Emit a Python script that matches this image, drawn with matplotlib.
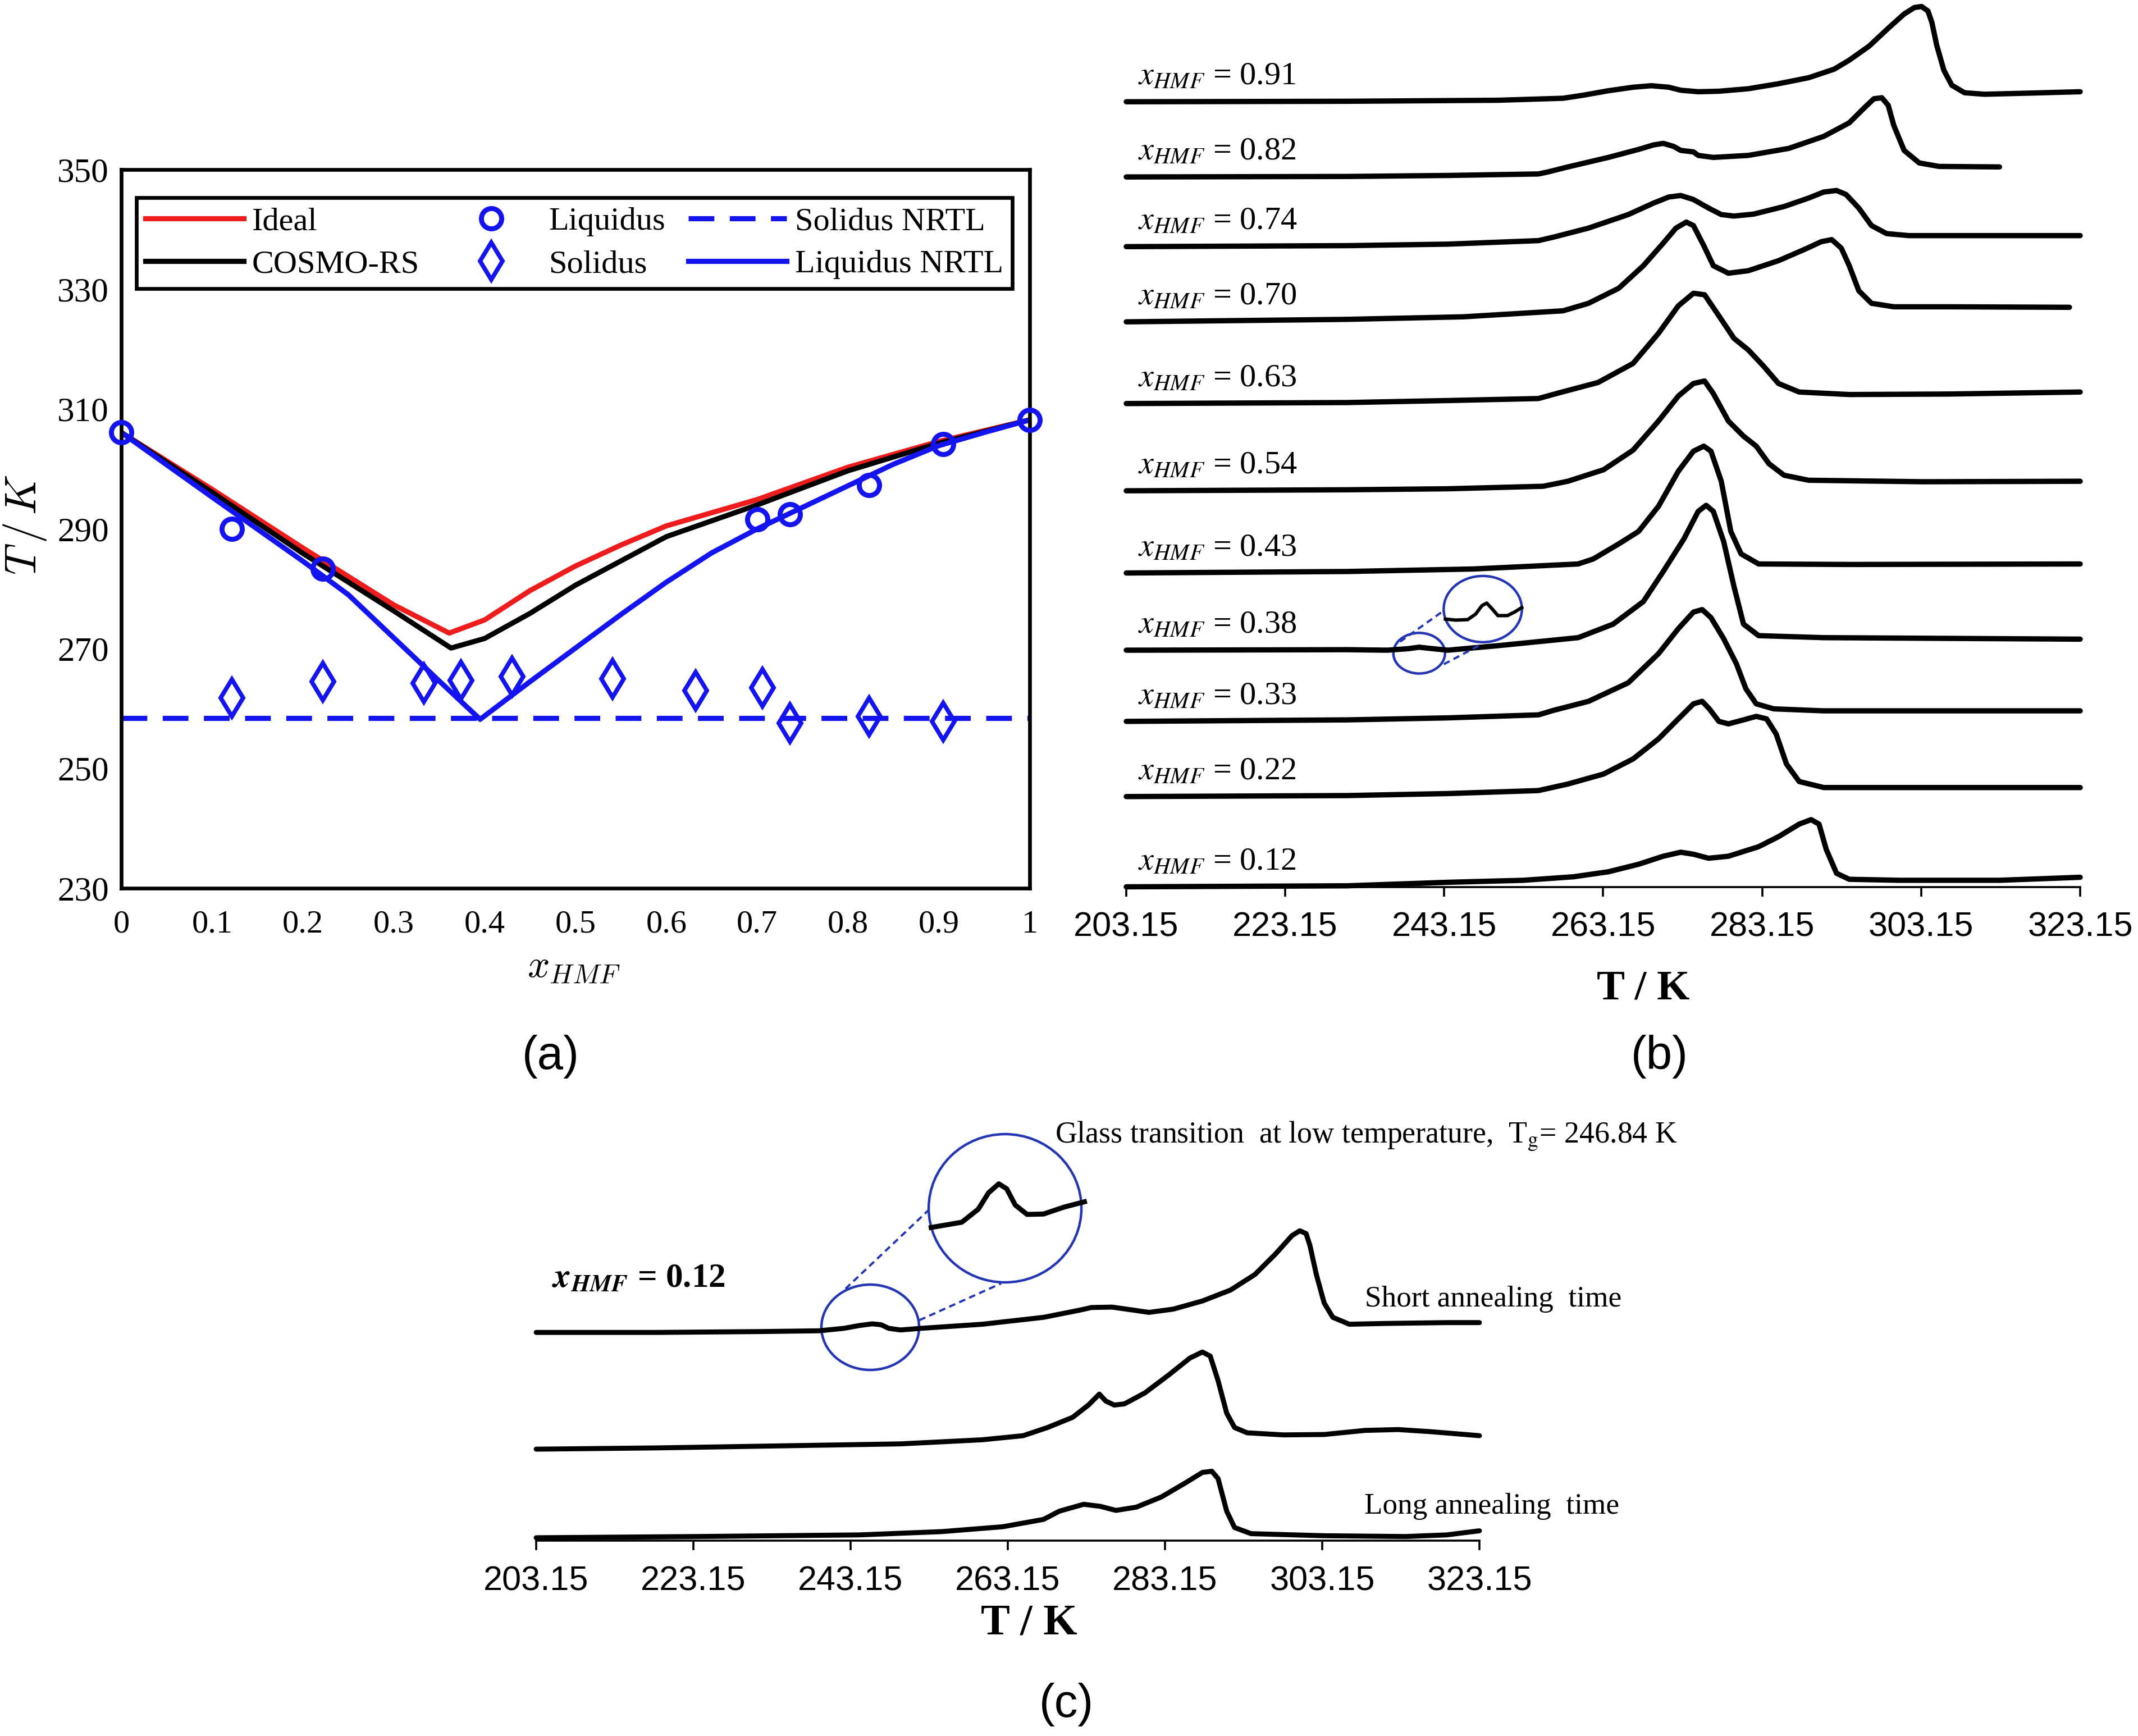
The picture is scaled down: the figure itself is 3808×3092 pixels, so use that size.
import matplotlib.pyplot as plt
from matplotlib.patches import Ellipse

plt.rcParams['font.family'] = ['Liberation Serif', 'DejaVu Serif']

# ---------------- (a) solid-liquid equilibrium ----------------
x_ideal = [0.0, 0.1, 0.2, 0.3, 0.361, 0.4, 0.45, 0.5, 0.55, 0.6, 0.7, 0.8, 0.9, 1.0]
T_ideal = [306.1, 296.6, 286.8, 277.3, 272.6, 274.8, 279.7, 283.8, 287.3, 290.5, 294.9, 300.3, 304.6, 308.2]

x_cosmo = [0.0, 0.1, 0.2, 0.3, 0.363, 0.4, 0.45, 0.5, 0.6, 0.7, 0.8, 0.9, 1.0]
T_cosmo = [306.1, 296.1, 285.9, 276.3, 270.1, 271.7, 275.9, 280.6, 288.7, 294.0, 299.7, 304.3, 308.2]

x_nrtl = [0.0, 0.1, 0.2, 0.25, 0.3, 0.35, 0.395, 0.45, 0.5, 0.55, 0.6, 0.65, 0.7, 0.75, 0.8, 0.85, 0.9, 0.95, 1.0]
T_nrtl = [306.1, 295.3, 284.6, 279.0, 271.8, 264.6, 258.2, 264.5, 270.1, 275.7, 281.1, 286.0, 290.0, 293.6, 297.2, 300.8, 303.9, 306.1, 308.2]

x_liq = [0.0, 0.122, 0.222, 0.700, 0.736, 0.823, 0.905, 1.0]
T_liq = [306.1, 290.0, 283.3, 291.6, 292.4, 297.3, 304.2, 308.2]

x_sol = [0.122, 0.222, 0.333, 0.374, 0.430, 0.541, 0.632, 0.706, 0.736, 0.823, 0.905]
T_sol = [261.8, 264.5, 264.2, 264.7, 265.3, 265.0, 263.0, 263.5, 257.6, 258.7, 257.8]

T_sol_nrtl = 258.4

# ---------------- (b) DSC thermograms (stacked heat flow, a.u.) ----------------
T_091 = [203.15, 231.0, 240.5, 249.9, 258.1, 260.6, 263.8, 266.9, 269.2, 271.4, 272.9, 275.1, 277.7, 281.4, 285.2, 289.0,
         292.2, 294.1, 296.6, 299.1, 301.0, 302.3, 303.2, 304.0, 304.5, 305.1, 306.0, 307.0, 308.6, 311.1, 316.1, 323.15]
q_091 = [1566, 1567, 1568, 1569, 1573, 1579, 1588, 1595, 1598, 1595, 1589, 1586, 1587, 1592, 1602, 1614,
         1631, 1649, 1677, 1714, 1741, 1754, 1756, 1747, 1724, 1679, 1629, 1599, 1584, 1581, 1583, 1586]

T_082 = [203.15, 231.0, 243.6, 255.0, 256.2, 258.7, 263.8, 267.6, 269.5, 270.7, 272.0, 272.9, 274.5, 275.1,
         277.0, 281.4, 286.5, 290.9, 294.1, 296.0, 297.2, 298.2, 299.0, 299.7, 301.0, 302.9, 305.4, 313.0]
q_082 = [1416, 1417, 1419, 1422, 1426, 1436, 1455, 1471, 1480, 1483, 1477, 1469, 1466, 1459,
         1455, 1459, 1473, 1497, 1524, 1554, 1572, 1574, 1559, 1519, 1469, 1444, 1437, 1436]

T_074 = [203.15, 231.0, 243.6, 255.0, 256.9, 261.3, 266.3, 269.5, 271.4, 272.9, 274.5, 276.4, 278.0,
         279.6, 282.1, 285.9, 289.0, 290.9, 292.5, 293.7, 295.3, 296.9, 298.8, 301.6, 313.0, 323.15]
q_074 = [1277, 1279, 1282, 1289, 1296, 1314, 1341, 1364, 1376, 1379, 1371, 1354, 1341,
         1338, 1342, 1357, 1374, 1386, 1389, 1381, 1354, 1319, 1303, 1299, 1299, 1299]

T_070 = [203.15, 231.0, 245.5, 258.1, 261.3, 265.1, 268.2, 270.7, 272.3, 273.6, 274.5, 275.8, 277.0,
         278.9, 281.4, 285.2, 288.4, 290.6, 291.9, 293.1, 294.1, 295.3, 296.9, 299.7, 306.7, 321.8]
q_070 = [1127, 1132, 1137, 1149, 1164, 1194, 1239, 1284, 1314, 1326, 1319, 1279, 1239,
         1224, 1229, 1249, 1271, 1287, 1291, 1274, 1239, 1189, 1164, 1157, 1157, 1156]

T_063 = [203.15, 231.0, 243.6, 255.0, 257.5, 262.5, 266.9, 270.1, 272.6, 274.5, 275.9, 277.7, 279.6,
         281.4, 283.3, 285.2, 287.8, 294.1, 306.7, 323.15]
q_063 = [964, 966, 970, 974, 985, 1006, 1044, 1104, 1159, 1184, 1181, 1139, 1094,
         1071, 1039, 1004, 987, 982, 983, 987]

T_054 = [203.15, 231.0, 243.6, 255.6, 258.7, 263.2, 266.9, 270.1, 272.6, 274.5, 275.9, 277.0, 278.9,
         280.8, 282.4, 284.0, 285.9, 289.0, 303.5, 323.15]
q_054 = [790, 792, 794, 799, 809, 832, 871, 929, 979, 1004, 1009, 984, 929,
         899, 879, 844, 821, 811, 808, 809]

T_043 = [203.15, 231.0, 246.8, 260.0, 261.9, 265.1, 267.6, 270.1, 272.6, 274.5, 275.8, 276.7, 278.0,
         279.2, 280.5, 282.7, 294.1, 323.15]
q_043 = [626, 629, 634, 644, 654, 684, 709, 759, 829, 869, 879, 869, 809,
         709, 664, 644, 643, 644]

T_038 = [203.15, 231.0, 236.0, 238.6, 240.0, 241.1, 243.6, 249.9, 260.0, 264.4, 268.2, 270.7, 273.3,
         275.1, 276.1, 277.0, 278.3, 279.6, 280.8, 282.7, 290.9, 323.15]
q_038 = [472, 473, 472, 475, 478, 476, 472, 481, 497, 524, 569, 629, 694,
         749, 761, 749, 689, 599, 524, 501, 497, 494]

T_033 = [203.15, 231.0, 243.6, 255.0, 256.9, 261.3, 266.3, 270.1, 272.6, 274.5, 275.6, 276.7, 278.3,
         279.9, 281.1, 282.4, 284.6, 290.9, 323.15]
q_033 = [330, 333, 337, 343, 352, 370, 407, 465, 515, 548, 553, 537, 495,
         445, 395, 365, 355, 351, 351]

T_022 = [203.15, 231.0, 243.6, 255.0, 258.7, 263.2, 266.9, 270.1, 272.6, 274.5, 275.6, 276.5, 277.7,
         278.9, 280.8, 282.4, 283.7, 284.9, 286.2, 287.8, 290.9, 323.15]
q_022 = [180, 182, 186, 192, 205, 225, 255, 295, 335, 365, 370, 355, 330,
         325, 333, 340, 335, 305, 245, 210, 198, 198]

T_012 = [203.15, 231.0, 243.6, 253.1, 259.4, 263.8, 267.6, 270.7, 272.9, 274.5, 276.4, 278.9, 282.7,
         285.2, 287.8, 289.3, 290.3, 291.2, 292.5, 294.1, 300.4, 313.0, 323.15]
q_012 = [0, 2, 9, 13, 20, 30, 45, 61, 69, 65, 57, 61, 80,
         100, 125, 134, 125, 75, 27, 15, 13, 13, 19]

compositions = ['0.91', '0.82', '0.74', '0.70', '0.63', '0.54', '0.43', '0.38', '0.33', '0.22', '0.12']

# magnified glass transition of x = 0.38
T_038_zoom = [243.3, 244.6, 246.1, 247.1, 247.9, 248.5, 249.2, 249.9, 251.1, 252.1, 252.9]
q_038_zoom = [534, 532, 533, 544, 561, 566, 554, 541, 541, 549, 557]

# ---------------- (c) x = 0.12, annealing time ----------------
T_short = [203.15, 218.4, 231.4, 239.1, 242.3, 244.3, 245.9, 247.0, 248.0, 249.5, 252.1, 259.9, 267.7, 272.4,
           273.8, 276.4, 279.0, 281.1, 284.2, 287.9, 291.5, 294.6, 297.2, 299.3, 300.3, 301.1, 301.6, 302.4,
           303.4, 304.5, 306.6, 311.2, 319.0, 323.15]
q_short = [370.8, 370.8, 372.3, 373.7, 378.1, 383.2, 386.1, 384.6, 378.1, 375.2, 378.1, 385.4, 397.7, 410.8,
           415.2, 415.9, 410.8, 406.5, 412.3, 426.8, 446.4, 474.1, 510.4, 543.2, 551.9, 546.8, 525.0, 474.1,
           423.2, 397.7, 385.4, 386.8, 388.3, 388.3]

T_mid = [203.15, 218.4, 234.0, 249.5, 259.9, 265.1, 268.2, 271.4, 273.4, 274.8, 275.6, 276.7, 278.0, 280.6,
         283.7, 286.3, 287.9, 288.9, 289.9, 291.0, 292.0, 293.6, 298.2, 303.4, 308.6, 312.8, 316.9, 323.15]
q_mid = [162.9, 165.1, 168.7, 172.3, 179.6, 186.9, 201.4, 219.6, 241.4, 261.0, 248.7, 241.4, 243.6, 263.2,
         295.9, 325.0, 335.9, 328.7, 285.0, 226.9, 201.4, 192.0, 188.3, 189.0, 196.3, 197.8, 194.1, 186.9]

T_long = [203.15, 223.6, 244.3, 254.7, 262.5, 267.7, 269.7, 272.8, 274.9, 276.9, 279.5, 282.7, 285.8, 287.9,
          289.1, 289.9, 291.0, 292.0, 294.1, 303.4, 313.8, 319.0, 323.15]
q_long = [5.1, 7.3, 10.2, 16.0, 24.7, 37.8, 52.4, 64.7, 61.1, 53.8, 59.6, 77.8, 103.3, 121.4,
          123.6, 110.5, 52.4, 23.3, 12.4, 8.7, 7.3, 10.2, 17.5]

# magnified glass transition (Tg = 246.84 K)
T_gt_zoom = [253.4, 257.3, 259.4, 260.7, 262.0, 263.0, 264.1, 265.6, 267.7, 270.3, 272.9]
q_gt_zoom = [557.7, 567.1, 590.4, 619.5, 635.5, 626.8, 597.7, 581.0, 581.7, 594.0, 603.5]

T_ticks = [203.15, 223.15, 243.15, 263.15, 283.15, 303.15, 323.15]

red = '#ee1c1c'
blue = '#1414f0'
circ_blue = '#2436b4'

W, H = 3808, 3092
fig = plt.figure(figsize=(W / 200, H / 200), dpi=200)

# ---------------- panel (a) ----------------
ax_a = fig.add_axes([216 / W, 1 - 1582 / H, 1618 / W, 1280 / H])
ax_a.plot(x_ideal, T_ideal, color=red, lw=3.3, label='Ideal')
ax_a.plot(x_cosmo, T_cosmo, color='black', lw=3.3, label='COSMO-RS')
ax_a.plot(x_liq, T_liq, ls='none', marker='o', ms=13, mfc='none', mec=blue, mew=3.2,
          label='Liquidus', clip_on=False, zorder=4)
ax_a.plot(x_sol, T_sol, ls='none', marker='d', ms=17, mfc='none', mec=blue, mew=2.8,
          label='Solidus', zorder=4)
ax_a.plot([0, 1], [T_sol_nrtl, T_sol_nrtl], color=blue, lw=3.3, dashes=(5, 3), label='Solidus NRTL')
ax_a.plot(x_nrtl, T_nrtl, color=blue, lw=3.3, label='Liquidus NRTL')

ax_a.set_xlim(0, 1)
ax_a.set_ylim(230, 350)
ax_a.set_xticks([0, 0.1, 0.2, 0.3, 0.4, 0.5, 0.6, 0.7, 0.8, 0.9, 1])
ax_a.set_xticklabels(['0', '0.1', '0.2', '0.3', '0.4', '0.5', '0.6', '0.7', '0.8', '0.9', '1'])
ax_a.set_yticks([230, 250, 270, 290, 310, 330, 350])
ax_a.tick_params(axis='both', length=0, labelsize=21)
ax_a.tick_params(axis='y', labelsize=22, pad=8)
ax_a.tick_params(axis='x', pad=14)
for sp in ax_a.spines.values():
    sp.set_linewidth(2.4)

leg = ax_a.legend(ncol=3, loc='upper left', bbox_to_anchor=(0.0166, 0.961), borderaxespad=0,
                  fancybox=False, edgecolor='black', framealpha=1, fontsize=21,
                  handlelength=3.0, handletextpad=0.25, columnspacing=0.7,
                  labelspacing=0.4, borderpad=0.28)
leg.get_frame().set_linewidth(2.4)

fig.text(44 / W, 1 - 935 / H, r'$T\,/\,K$', rotation=90, ha='center', va='center',
         fontsize=28, math_fontfamily='cm')
fig.text(1022 / W, 1 - 1724 / H, r'$x_{HMF}$', ha='center', va='center',
         fontsize=25, math_fontfamily='cm')
fig.text(981 / W, 1 - 1882 / H, '(a)', ha='center', va='center', fontsize=30, family='Liberation Sans')

# ---------------- panel (b) ----------------
ax_b = fig.add_axes([2006 / W, 1 - 1579.5 / H, 1699 / W, 1579.5 / H])
ax_b.patch.set_visible(False)
curves_b = [(T_091, q_091), (T_082, q_082), (T_074, q_074), (T_070, q_070), (T_063, q_063),
            (T_054, q_054), (T_043, q_043), (T_038, q_038), (T_033, q_033), (T_022, q_022),
            (T_012, q_012)]
for (T, q), comp in zip(curves_b, compositions):
    ax_b.plot(T, q, color='black', lw=3.4, solid_capstyle='round', solid_joinstyle='round', clip_on=False)
    ax_b.text(204.6, q[0] + 50, r'$x_{HMF}$ = ' + comp, ha='left', va='center',
              fontsize=21, math_fontfamily='stix')

ax_b.add_patch(Ellipse((248.0, 554), 9.84, 132, fill=False, ec=circ_blue, lw=1.6, clip_on=False))
ax_b.add_patch(Ellipse((240.0, 466), 6.5, 81, fill=False, ec=circ_blue, lw=1.6, clip_on=False))
ax_b.plot(T_038_zoom, q_038_zoom, color='black', lw=2.2, solid_joinstyle='round')
ax_b.plot([237.6, 243.1], [489, 551], color=circ_blue, lw=1.4, dashes=(3, 2))
ax_b.plot([243.1, 247.5], [444, 481], color=circ_blue, lw=1.4, dashes=(3, 2))

ax_b.set_xlim(203.15, 323.15)
ax_b.set_ylim(0, 1769)
for sp in ['left', 'right', 'top']:
    ax_b.spines[sp].set_visible(False)
ax_b.spines['bottom'].set_linewidth(1.3)
ax_b.set_yticks([])
ax_b.set_xticks(T_ticks)
ax_b.set_xticklabels([f'{t:.2f}' for t in T_ticks], family='Liberation Sans', fontsize=22)
ax_b.tick_params(axis='x', length=6, width=1.3, pad=10)

fig.text(2927 / W, 1 - 1761 / H, 'T / K', ha='center', va='center', fontsize=27, fontweight='bold')
fig.text(2956 / W, 1 - 1882 / H, '(b)', ha='center', va='center', fontsize=30, family='Liberation Sans')

# ---------------- panel (c) ----------------
ax_c = fig.add_axes([955 / W, 1 - 2744 / H, 1680 / W, 794 / H])
ax_c.patch.set_visible(False)
for T, q in [(T_short, q_short), (T_mid, q_mid), (T_long, q_long)]:
    ax_c.plot(T, q, color='black', lw=3.2, solid_capstyle='round', solid_joinstyle='round', clip_on=False)

ax_c.add_patch(Ellipse((262.8, 592), 19.43, 264, fill=False, ec=circ_blue, lw=1.6, clip_on=False))
ax_c.add_patch(Ellipse((245.65, 380), 12.43, 152, fill=False, ec=circ_blue, lw=1.6, clip_on=False))
ax_c.plot(T_gt_zoom, q_gt_zoom, color='black', lw=3.2, solid_joinstyle='round')
ax_c.plot([242.5, 253.1], [448.6, 589.0], color=circ_blue, lw=1.4, dashes=(3, 2))
ax_c.plot([251.9, 262.3], [392.6, 458.1], color=circ_blue, lw=1.4, dashes=(3, 2))

ax_c.text(205.15, 467, r'$\mathbfit{x}_{\mathbfit{HMF}}$ = 0.12', ha='left', va='center',
          fontsize=22, fontweight='bold', math_fontfamily='stix')
ax_c.text(269.15, 721, r'Glass transition  at low temperature,  T$_{\rm g}$= 246.84 K',
          ha='left', va='center', fontsize=19.4, math_fontfamily='stix')
ax_c.text(308.6, 430, 'Short annealing  time', ha='left', va='center', fontsize=19.2)
ax_c.text(308.5, 61, 'Long annealing  time', ha='left', va='center', fontsize=19.2)

ax_c.set_xlim(203.15, 323.15)
ax_c.set_ylim(0, 794)
for sp in ['left', 'right', 'top']:
    ax_c.spines[sp].set_visible(False)
ax_c.spines['bottom'].set_linewidth(1.3)
ax_c.set_yticks([])
ax_c.set_xticks(T_ticks)
ax_c.set_xticklabels([f'{t:.2f}' for t in T_ticks], family='Liberation Sans', fontsize=22)
ax_c.tick_params(axis='x', length=6, width=1.3, pad=10)

fig.text(1833 / W, 1 - 2892 / H, 'T / K', ha='center', va='center', fontsize=28, fontweight='bold')
fig.text(1899 / W, 1 - 3036 / H, '(c)', ha='center', va='center', fontsize=30, family='Liberation Sans')

fig.savefig('out.png', dpi=200)
